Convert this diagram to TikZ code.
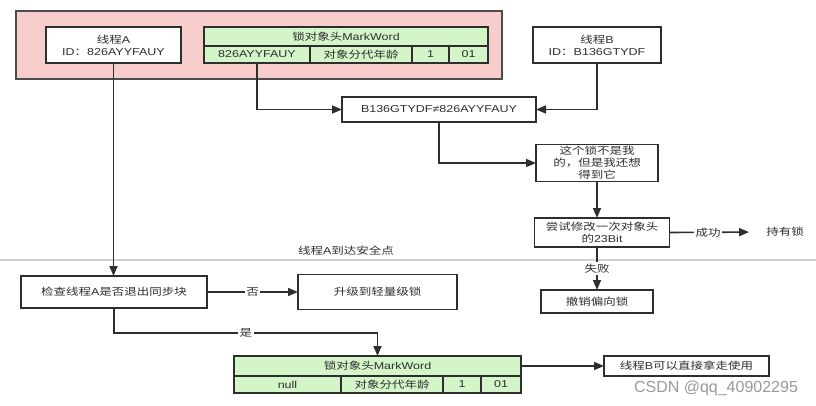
\documentclass[tikz,border=0pt]{standalone}
\usepackage{fontspec}
\setmainfont{Liberation Sans}[FakeStretch=1.25]
\newfontfamily\zh{Noto Sans CJK SC}[FakeStretch=1.25]
\newfontfamily\wm{Liberation Sans}
\usetikzlibrary{arrows.meta}
\definecolor{ink}{HTML}{2E2E2E}
\definecolor{pinkf}{HTML}{F8CECC}
\definecolor{greenf}{HTML}{D3F5C8}
\definecolor{sepc}{HTML}{D0D0D0}
\definecolor{wmc}{HTML}{9A9A9A}
\newcommand{\zt}[1]{{\zh #1}}
\begin{document}
\begin{tikzpicture}[x=1pt,y=-1pt,
  font=\fontsize{10}{12}\selectfont,
  box/.style={draw=ink, line width=1.8pt, fill=white, inner sep=0pt, outer sep=0pt, align=center, text=ink},
  cell/.style={box, fill=greenf, minimum height=17pt},
  hdr/.style={box, fill=greenf, minimum height=19pt},
  grpbox/.style={draw=ink!85, line width=1.8pt, fill=pinkf, inner sep=0pt},
  conn/.style={draw=ink, line width=1.6pt, -{Triangle[length=10pt,width=8pt]}},
  lab/.style={fill=white, inner sep=1.5pt, text=ink},
  txt/.style={inner sep=0pt, text=ink},
  sepline/.style={draw=sepc, line width=1.4pt}
]
\useasboundingbox (0,0) rectangle (816,406);
\fill[white] (0,0) rectangle (816,406);

% container
\node[grpbox, minimum width=486pt, minimum height=68pt] (grp) at (259,45) {};

% top row
\node[box, minimum width=135pt, minimum height=36pt] (thA) at (113.5,45) {\zt{线程}A\\ID\zt{：}826AYYFAUY};
\node[hdr, minimum width=284pt] (mwh) at (346,36.5) {\zt{锁对象头}MarkWord};
\node[cell, minimum width=106pt] (c1) at (257,54.5) {826AYYFAUY};
\node[cell, minimum width=102pt] (c2) at (361,54.5) {\zt{对象分代年龄}};
\node[cell, minimum width=37pt] (c3) at (430.5,54.5) {1};
\node[cell, minimum width=39pt] (c4) at (468.5,54.5) {01};
\node[box, minimum width=128pt, minimum height=36pt] (thB) at (597,45) {\zt{线程}B\\ID\zt{：}B136GTYDF};

% compare
\node[box, minimum width=194pt, minimum height=25pt] (cmp) at (439,109.5) {B136GTYDF≠826AYYFAUY};
\node[box, minimum width=122pt, minimum height=37pt] (want) at (597,163) {\zt{这个锁不是我}\\\zt{的，但是我还想}\\\zt{得到它}};
\node[box, minimum width=135pt, minimum height=29pt] (try) at (602,232.5) {\zt{尝试修改一次对象头}\\\zt{的}23Bit};
\node[txt] (hold) at (785,232) {\zt{持有锁}};
\node[box, minimum width=112pt, minimum height=23pt] (rev) at (597,301.5) {\zt{撤销偏向锁}};

% separator
\draw[sepline] (0,260) -- (816,260);
\node[txt] (safe) at (346,251) {\zt{线程}A\zt{到达安全点}};

% lower part
\node[box, minimum width=186pt, minimum height=32pt] (chk) at (114,292) {\zt{检查线程}A\zt{是否退出同步块}};
\node[box, minimum width=159pt, minimum height=35pt] (up) at (377.5,292) {\zt{升级到轻量级锁}};
\node[hdr, minimum width=287pt, minimum height=20pt] (mwb) at (377.5,366) {\zt{锁对象头}MarkWord};
\node[cell, minimum width=107pt] (d1) at (287.5,384.5) {null};
\node[cell, minimum width=102pt] (d2) at (392,384.5) {\zt{对象分代年龄}};
\node[cell, minimum width=38pt] (d3) at (462,384.5) {1};
\node[cell, minimum width=40pt] (d4) at (501,384.5) {01};
\node[box, minimum width=165pt, minimum height=20pt] (tb) at (686.5,366) {\zt{线程}B\zt{可以直接拿走使用}};
\node[txt, text=wmc, font=\wm\fontsize{16}{18}\selectfont] (csdn) at (716,388) {CSDN @qq\_40902295};

% connectors
\draw[conn] (c1.south) |- (cmp.west);
\draw[conn] (thB.south) |- (cmp.east);
\draw[conn] (cmp.south) |- (want.west);
\draw[conn] (want.south) -- (want.south |- try.north);
\draw[conn, shorten >=17pt] (try.east) -- node[lab, pos=0.4]{\zt{成功}} (hold.west);
\draw[conn] (want.south |- try.south) -- node[lab, pos=0.5]{\zt{失败}} (rev.north);
\draw[conn] (thA.south) -- (thA.south |- chk.north);
\draw[conn] (chk.east) -- node[lab]{\zt{否}} (up.west);
\draw[conn] (chk.south) -- (chk.south |- 0,333) -- node[lab]{\zt{是}} (mwb.north |- 0,333) -- (mwb.north);
\draw[conn] (mwb.east) -- (tb.west);
\end{tikzpicture}
\end{document}
